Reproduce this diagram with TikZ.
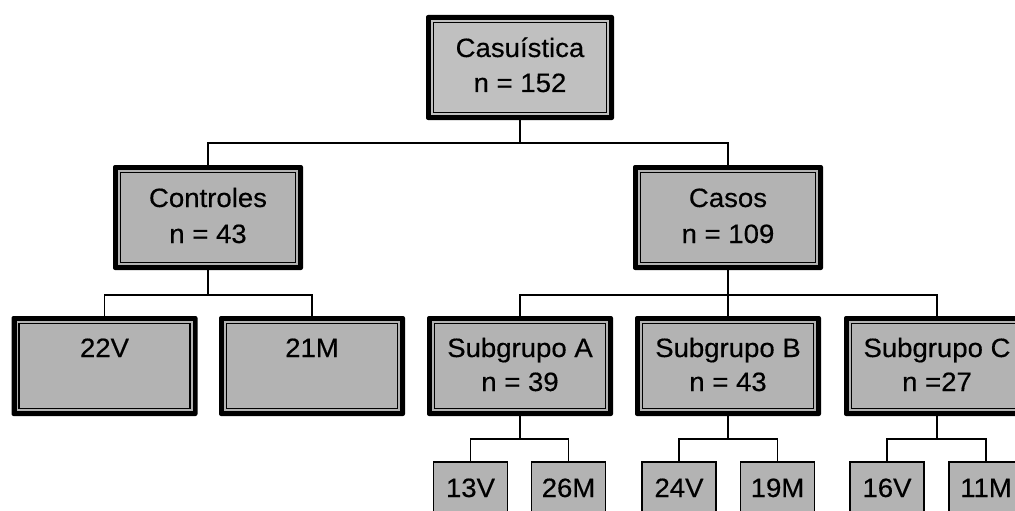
\documentclass[tikz,border=0pt]{standalone}
\usepackage{fontspec}
\setmainfont[FakeStretch=1.04,FakeBold=0.4]{Liberation Sans}
\definecolor{boxgray}{HTML}{B3B3B3}
\definecolor{topgray}{HTML}{C0C0C0}
\newcommand\dblbox[6]{%
  \node[outerbox, minimum width=#4pt, minimum height=#5pt] (#1) at (#2,#3) {};
  \fill[#6] ([shift={(5,5)}]#1.north west) rectangle ([shift={(-5,-5)}]#1.south east);
  \draw[line width=1.2pt] ([shift={(7.5,7.5)}]#1.north west) rectangle ([shift={(-7.5,-7.5)}]#1.south east);
}
\begin{document}
\begin{tikzpicture}[x=1pt,y=-1pt,
  outerbox/.style={fill=black, draw=none, rounded corners=2pt, inner sep=0pt, outer sep=0pt},
  smallbox/.style={fill=boxgray, draw=black, line width=1.3pt, minimum width=74pt, minimum height=80pt, inner sep=0pt, outer sep=0pt},
  txt/.style={anchor=base, inner sep=0pt, font=\fontsize{26.5}{35}\selectfont},
  conn/.style={line width=1.3pt, draw=black}]
\clip (0,0) rectangle (1015,511);
\fill[white] (0,0) rectangle (1015,511);
% row 1
\dblbox{top}{520}{67.5}{188}{105}{topgray}
\node[txt] (topA) at (520,57) {Casuística};
\node[txt] (topB) at (520,92) {n = 152};
% row 2
\dblbox{contr}{208}{217.5}{190}{105}{boxgray}
\node[txt] (contrA) at (208,207) {Controles};
\node[txt] (contrB) at (208,243) {n = 43};
\dblbox{casos}{728}{217.5}{190}{105}{boxgray}
\node[txt] (casosA) at (728,207) {Casos};
\node[txt] (casosB) at (728,243) {n = 109};
% row 3
\dblbox{v22}{104.5}{366}{186}{100}{boxgray}
\node[txt] (v22A) at (104.5,357) {22V};
\dblbox{m21}{312}{366}{186}{100}{boxgray}
\node[txt] (m21A) at (312,357) {21M};
\dblbox{sa}{520}{366}{186}{100}{boxgray}
\node[txt] (saA) at (520,357) {Subgrupo A};
\node[txt] (saB) at (520,391) {n = 39};
\dblbox{sb}{728}{366}{186}{100}{boxgray}
\node[txt] (sbA) at (728,357) {Subgrupo B};
\node[txt] (sbB) at (728,391) {n = 43};
\dblbox{sc}{937}{366}{186}{100}{boxgray}
\node[txt] (scA) at (937,357) {Subgrupo C};
\node[txt] (scB) at (937,391) {n =27};
% row 4
\node[smallbox] (a13) at (470.5,502) {};
\node[txt] (a13t) at (470.5,497) {13V};
\node[smallbox] (a26) at (568.5,502) {};
\node[txt] (a26t) at (568.5,497) {26M};
\node[smallbox] (b24) at (679,502) {};
\node[txt] (b24t) at (679,497) {24V};
\node[smallbox] (b19) at (777.5,502) {};
\node[txt] (b19t) at (777.5,497) {19M};
\node[smallbox] (c16) at (887,502) {};
\node[txt] (c16t) at (887,497) {16V};
\node[smallbox] (c11) at (986,502) {};
\node[txt] (c11t) at (986,497) {11M};
% connectors
\draw[conn] (top.south) -- ++(0,23) -| (contr.north);
\draw[conn] (top.south) -- ++(0,23) -| (casos.north);
\draw[conn] (contr.south) -- ++(0,25) -| (v22.north);
\draw[conn] (contr.south) -- ++(0,25) -| (m21.north);
\draw[conn] (casos.south) -- ++(0,25) -| (sa.north);
\draw[conn] (casos.south) -- ++(0,25) -| (sb.north);
\draw[conn] (casos.south) -- ++(0,25) -| (sc.north);
\draw[conn] (sa.south) -- ++(0,23) -| (a13.north);
\draw[conn] (sa.south) -- ++(0,23) -| (a26.north);
\draw[conn] (sb.south) -- ++(0,23) -| (b24.north);
\draw[conn] (sb.south) -- ++(0,23) -| (b19.north);
\draw[conn] (sc.south) -- ++(0,23) -| (c16.north);
\draw[conn] (sc.south) -- ++(0,23) -| (c11.north);
\end{tikzpicture}
\end{document}
